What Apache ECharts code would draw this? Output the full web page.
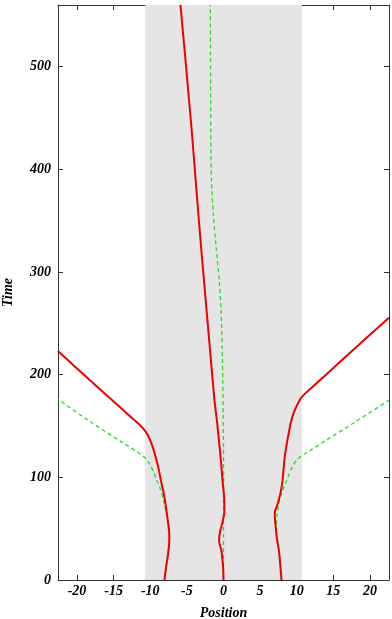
<!DOCTYPE html>
<html>
<head>
<meta charset="utf-8">
<script src="https://cdn.jsdelivr.net/npm/echarts@6/dist/echarts.min.js"></script>
<style>html,body{margin:0;padding:0;background:#fff;}#c{width:392px;height:619px;}</style>
</head>
<body>
<div id="c"></div>
<script>
// ---- data ----
const xTicks = [-20, -15, -10, -5, 0, 5, 10, 15, 20];
const yTicks = [0, 100, 200, 300, 400, 500];
const band = [-10.7, 10.7];

const redLeftX  = [-8.06,-7.85,-7.6,-7.42,-7.4,-7.5,-7.68,-7.9,-8.15,-8.55,-8.85,-9.2,-9.55,-9.95,-10.4,-10.9,-11.5,-12.3,-14,-18,-22.6];
const redLeftT  = [0,12,24,35,43,52,62,73,84,97,108,118,127,135,142,147,151.5,156.5,167.5,193,223];

const redCenterX = [0,-0.05,-0.15,-0.3,-0.6,-0.5,-0.15,0.1,0.12,0.05,-0.1,-0.3,-0.5,-0.85,-1.23,-1.9,-2.55,-3.2,-3.8,-4.25,-4.7,-5.3,-5.88];
const redCenterT = [0,12,20,29,38,46,56,65,74,84,94,112,127,152,175,229,282,336,389,430,467,515,560];

const redRightX = [7.92,7.75,7.56,7.3,7.15,7.02,7.0,7.25,7.55,7.85,8.05,8.2,8.4,8.7,9.15,9.6,10.1,10.6,11.2,12,14,18,22.6];
const redRightT = [0,15,29,40,50,60,66,71,78,87,96,108,122,135,152,163,171,177.5,182,187,200,226,255.5];

const greenLeftX = [-8.06,-7.85,-7.6,-7.42,-7.38,-7.45,-7.65,-7.9,-8.2,-8.6,-9.1,-9.6,-10.1,-10.6,-11.2,-12,-14,-18,-22.6];
const greenLeftT = [0,12,24,35,45,52,60,68,78,88,97,106,113,118,122,125.8,134.8,153.2,176];

const greenCenterX = [0,0,0.02,0,-0.05,-0.1,-0.18,-0.31,-0.59,-1.0,-1.4,-1.64,-1.72,-1.76,-1.78,-1.8];
const greenCenterT = [0,50,100,130,160,195,227,260,292,324,357,389,420,470,520,560];

const greenRightX = [7.92,7.75,7.56,7.3,7.2,7.3,7.65,8.0,8.47,8.9,9.38,9.9,10.5,11.2,12,14,18,22.6];
const greenRightT = [0,15,29,40,48,62,78,86,94,102,110,116,120,123.5,127,136,154,175];

// ---- chart ----
const zip = (xs, ts) => xs.map((x, i) => [x, ts[i]]);
const font = { fontFamily: 'Liberation Serif', fontWeight: 'bold', fontStyle: 'italic', fontSize: 14, color: '#000' };
const XMIN = -22.6, XMAX = 22.6, YMIN = 0, YMAX = 560;
const lineCol = '#333';

function red(xs, ts) {
  return { type: 'line', data: zip(xs, ts), showSymbol: false, smooth: 0.25, z: 4,
    lineStyle: { color: '#ee0000', width: 2 }, silent: true, animation: false };
}
function green(xs, ts) {
  return { type: 'line', data: zip(xs, ts), showSymbol: false, smooth: 0.25, z: 3,
    lineStyle: { color: '#22dd22', width: 1.3, type: [4, 3] }, silent: true, animation: false };
}

const series = [
  green(greenLeftX, greenLeftT),
  green(greenCenterX, greenCenterT),
  green(greenRightX, greenRightT),
  red(redLeftX, redLeftT),
  red(redCenterX, redCenterT),
  red(redRightX, redRightT)
];
series[0].markArea = {
  silent: true,
  itemStyle: { color: '#e5e5e5' },
  data: [[{ xAxis: band[0] }, { xAxis: band[1] }]]
};

const chart = echarts.init(document.getElementById('c'), null, { renderer: 'canvas' });
chart.setOption({
  animation: false,
  backgroundColor: '#fff',
  grid: { left: 58, right: 3, top: 5, bottom: 39, containLabel: false, outerBoundsMode: 'none' },
  xAxis: [
    { type: 'value', position: 'bottom', min: XMIN, max: XMAX,
      name: 'Position', nameLocation: 'middle', nameGap: 26, nameTextStyle: font,
      axisLine: { show: true, onZero: false, lineStyle: { color: lineCol, width: 1 } },
      axisTick: { show: true, inside: true, length: 5, customValues: xTicks, lineStyle: { color: lineCol } },
      axisLabel: { ...font, margin: 4, customValues: xTicks },
      splitLine: { show: false } },
    { type: 'value', position: 'top', min: XMIN, max: XMAX,
      axisLine: { show: true, onZero: false, lineStyle: { color: lineCol, width: 1 } },
      axisTick: { show: true, inside: true, length: 5, customValues: xTicks, lineStyle: { color: lineCol } },
      axisLabel: { show: false }, splitLine: { show: false } }
  ],
  yAxis: [
    { type: 'value', position: 'left', min: YMIN, max: YMAX,
      name: 'Time', nameLocation: 'middle', nameGap: 43, nameRotate: 90, nameTextStyle: font,
      axisLine: { show: true, onZero: false, lineStyle: { color: lineCol, width: 1 } },
      axisTick: { show: true, inside: true, length: 5, customValues: yTicks, lineStyle: { color: lineCol } },
      axisLabel: { ...font, margin: 7, customValues: yTicks },
      splitLine: { show: false } },
    { type: 'value', position: 'right', min: YMIN, max: YMAX,
      axisLine: { show: true, onZero: false, lineStyle: { color: lineCol, width: 1 } },
      axisTick: { show: true, inside: true, length: 5, customValues: yTicks, lineStyle: { color: lineCol } },
      axisLabel: { show: false }, splitLine: { show: false } }
  ],
  series: series
});
</script>
</body>
</html>
